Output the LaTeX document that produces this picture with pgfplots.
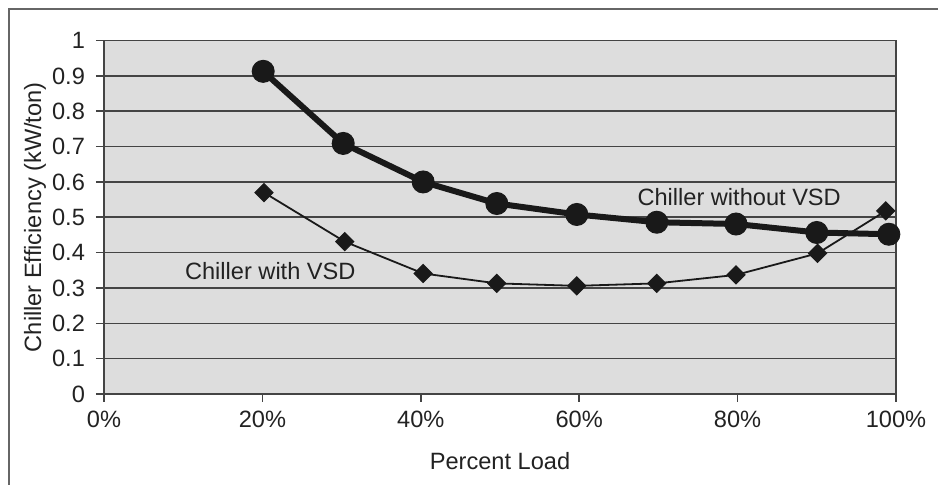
\documentclass[border=0pt]{standalone}
\usepackage{fontspec}
\setmainfont{Liberation Sans}
\usepackage{pgfplots}
\pgfplotsset{compat=1.18}
\definecolor{bg}{HTML}{DDDDDD}
\definecolor{gridc}{HTML}{444444}
\definecolor{txt}{HTML}{222222}
\begin{document}
\begin{tikzpicture}[font=\fontsize{11.8pt}{14pt}\selectfont]
\useasboundingbox (-52pt,-45.5pt) rectangle (417pt,197pt);
\draw[color=gray!80!black, line width=0.8pt] (-47.5pt,-46pt) -- (-47.5pt,192.5pt) -- (418pt,192.5pt);
\begin{axis}[
  at={(0,0)}, anchor=south west,
  scale only axis, width=396pt, height=176.7pt,
  xmin=0, xmax=100, ymin=0, ymax=1,
  xtick={0,20,40,60,80,100},
  ytick={0,0.1,0.2,0.3,0.4,0.5,0.6,0.7,0.8,0.9,1},
  yticklabels={0,0.1,0.2,0.3,0.4,0.5,0.6,0.7,0.8,0.9,1},
  xticklabel={\pgfmathprintnumber{\tick}\%},
  /pgf/number format/assume math mode=true,
  tick align=outside, major tick length=4pt,
  xtick pos=bottom, ytick pos=left,
  tick style={color=gridc, line width=0.8pt},
  axis line style={color=gridc, line width=0.8pt},
  ymajorgrids, grid style={color=gridc, line width=0.8pt},
  axis background/.style={fill=bg},
  ticklabel style={text=txt},
  yticklabel style={xshift=-2pt},
  xticklabel style={yshift=-1pt},
  xlabel={Percent Load},
  ylabel={Chiller Efficiency (kW/ton)},
  label style={text=txt},
  xlabel style={at={(axis description cs:0.5,-0.19)}, anchor=center},
  ylabel style={at={(axis description cs:-0.087,0.5)}, anchor=center},
  clip=false,
]
\addplot[color=black!90, line width=3pt, mark=*, mark size=5.5pt, mark options={line width=0.5pt, fill=black!90}]
  coordinates {(20.1,0.913) (30.2,0.709) (40.3,0.600) (49.6,0.539) (59.7,0.508) (69.8,0.486) (79.8,0.481) (90.0,0.457) (99.1,0.452)};
\addplot[color=black!90, line width=0.9pt, mark=square*, mark size=3.2pt, mark options={rotate=45, line width=0.5pt, fill=black!90}]
  coordinates {(20.2,0.570) (30.4,0.431) (40.3,0.341) (49.6,0.313) (59.7,0.306) (69.8,0.313) (79.8,0.337) (90.1,0.398) (98.7,0.518)};
\node[text=txt] at (axis cs:80.2,0.558) {Chiller without VSD};
\node[text=txt] at (axis cs:21.0,0.348) {Chiller with VSD};
\end{axis}
\end{tikzpicture}
\end{document}
